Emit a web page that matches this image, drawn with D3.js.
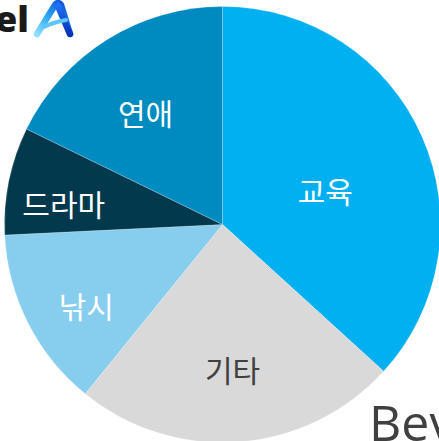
<!DOCTYPE html>
<html><head><meta charset="utf-8">
<script src="https://cdn.jsdelivr.net/npm/d3@7"></script>
<style>
html,body{margin:0;padding:0;background:#fff;overflow:hidden;}
svg{display:block;}
</style></head>
<body>
<script>
const categories = ["교육", "기타", "낚시", "드라마", "연애"];
const values = [36.8, 24.1, 13.4, 8.0, 17.8];
const colors = ["#00b0f0", "#d9d9d9", "#86cdee", "#03394d", "#008bc0"];
const labelColors = ["#ffffff", "#404040", "#ffffff", "#ffffff", "#ffffff"];

const W = 439, H = 441;
const cx = 222.5, cy = 224.5, R = 218;

const svg = d3.select("body").append("svg").attr("width", W).attr("height", H);

const data = categories.map((c, i) => ({cat: c, value: values[i], color: colors[i], lc: labelColors[i]}));
const pie = d3.pie().sort(null).value(d => d.value);
const arcs = pie(data);
const total = d3.sum(values);
const arc = d3.arc().innerRadius(0).outerRadius(R);

const g = svg.append("g").attr("transform", `translate(${cx},${cy})`);
g.selectAll("path.slice").data(arcs).join("path")
  .attr("class", "slice")
  .attr("d", arc)
  .attr("fill", d => d.data.color)
  .attr("stroke", "#ffffff")
  .attr("stroke-opacity", 0.35)
  .attr("stroke-width", 0.6);

// label radius: smaller slices push labels outward
g.selectAll("text.lbl").data(arcs).join("text")
  .attr("class", "lbl")
  .attr("transform", d => {
    const frac = d.data.value / total;
    const r = R * (0.807 - 0.794 * frac);
    const a = (d.startAngle + d.endAngle) / 2;
    return `translate(${r * Math.sin(a)},${-r * Math.cos(a) + 11})`;
  })
  .attr("text-anchor", "middle")
  .attr("dominant-baseline", "central")
  .attr("font-family", "'Noto Sans CJK KR', sans-serif")
  .attr("font-size", 30)
  .attr("font-weight", 400)
  .attr("fill", d => d.data.lc)
  .text(d => d.data.cat);

// Logo fragment top-left
svg.append("text")
  .attr("x", 29).attr("y", 32)
  .attr("text-anchor", "end")
  .attr("font-family", "'Open Sans', 'DejaVu Sans', sans-serif")
  .attr("font-weight", 800)
  .attr("font-size", 36)
  .attr("fill", "#1a1a1a")
  .text("el");

const defs = svg.append("defs");
const grad = defs.append("linearGradient").attr("id", "lg").attr("x1", "0").attr("y1", "1").attr("x2", "1").attr("y2", "0");
grad.append("stop").attr("offset", "0%").attr("stop-color", "#8fe0ff");
grad.append("stop").attr("offset", "45%").attr("stop-color", "#2aa8f5");
grad.append("stop").attr("offset", "100%").attr("stop-color", "#0a3fd6");
const grad2 = defs.append("linearGradient").attr("id", "lg2").attr("x1", "0").attr("y1", "0").attr("x2", "0").attr("y2", "1");
grad2.append("stop").attr("offset", "0%").attr("stop-color", "#1f6ff0");
grad2.append("stop").attr("offset", "100%").attr("stop-color", "#0831b8");

svg.append("path")
  .attr("d", "M37,34 L55,5 Q58,1 61,5 L70,34")
  .attr("fill", "none")
  .attr("stroke", "url(#lg)")
  .attr("stroke-width", 6.5)
  .attr("stroke-linecap", "round")
  .attr("stroke-linejoin", "round");
svg.append("path")
  .attr("d", "M58,6 L70,34")
  .attr("fill", "none")
  .attr("stroke", "url(#lg2)")
  .attr("stroke-width", 6.5)
  .attr("stroke-linecap", "round");
svg.append("path")
  .attr("d", "M44,27 Q54,22 66,20")
  .attr("fill", "none")
  .attr("stroke", "#5cc6fb")
  .attr("stroke-width", 4)
  .attr("stroke-linecap", "round");

// Large text fragment bottom-right
svg.append("text")
  .attr("x", 369).attr("y", 441)
  .attr("font-family", "'Open Sans', 'Noto Sans', sans-serif")
  .attr("font-size", 50)
  .attr("fill", "#404040")
  .text("Bev");
</script>
</body></html>
